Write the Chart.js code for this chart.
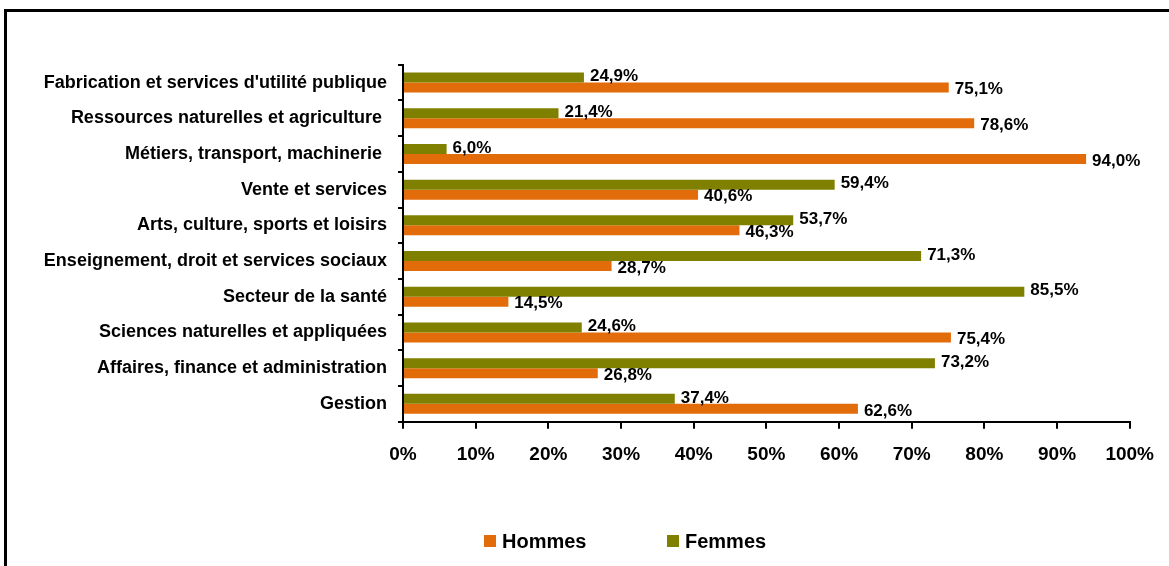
<!DOCTYPE html>
<html>
<head>
<meta charset="utf-8">
<script src="https://cdn.jsdelivr.net/npm/chart.js@4/dist/chart.umd.min.js"></script>
<style>
  html, body { margin: 0; padding: 0; background: #fff; }
  #wrap { width: 1169px; height: 566px; position: relative; }
</style>
</head>
<body>
<div id="wrap"><canvas id="chart" width="1169" height="566"></canvas></div>
<script>
const categories = [
  "Fabrication et services d'utilité publique",
  "Ressources naturelles et agriculture ",
  "Métiers, transport, machinerie ",
  "Vente et services",
  "Arts, culture, sports et loisirs",
  "Enseignement, droit et services sociaux",
  "Secteur de la santé",
  "Sciences naturelles et appliquées",
  "Affaires, finance et administration",
  "Gestion"
];
const femmes = [24.9, 21.4, 6.0, 59.4, 53.7, 71.3, 85.5, 24.6, 73.2, 37.4];
const hommes = [75.1, 78.6, 94.0, 40.6, 46.3, 28.7, 14.5, 75.4, 26.8, 62.6];
const legendOrder = ["Hommes", "Femmes"];

const ORANGE = "#E36C0A";
const OLIVE = "#808000";
const FONT = "'Liberation Sans', Arial, sans-serif";

const fmt = v => v.toFixed(1).replace(".", ",") + "%";

// black frame around the chart (left and top edges are visible)
const framePlugin = {
  id: "frame",
  beforeDraw(chart) {
    const ctx = chart.ctx;
    ctx.save();
    ctx.strokeStyle = "#000";
    ctx.lineWidth = 3;
    ctx.beginPath();
    ctx.moveTo(5.5, 566);
    ctx.lineTo(5.5, 10.5);
    ctx.lineTo(1169, 10.5);
    ctx.stroke();
    ctx.restore();
  }
};

// value labels at the end of each bar
const valueLabels = {
  id: "valueLabels",
  afterDatasetsDraw(chart) {
    const ctx = chart.ctx;
    ctx.save();
    ctx.font = "bold 17px " + FONT;
    ctx.fillStyle = "#000";
    ctx.textBaseline = "middle";
    ctx.textAlign = "left";
    chart.data.datasets.forEach((ds, i) => {
      const meta = chart.getDatasetMeta(i);
      const dy = ds.label === "Hommes" ? 2 : -1;
      meta.data.forEach((bar, j) => {
        ctx.fillText(fmt(ds.data[j]), bar.x + 6, bar.y + dy);
      });
    });
    ctx.restore();
  }
};

// legend drawn at bottom, Hommes first
const bottomLegend = {
  id: "bottomLegend",
  afterDraw(chart) {
    const ctx = chart.ctx;
    const items = [
      { text: legendOrder[0], color: ORANGE, x: 484 },
      { text: legendOrder[1], color: OLIVE, x: 667 }
    ];
    ctx.save();
    ctx.font = "bold 20px " + FONT;
    ctx.textBaseline = "middle";
    ctx.textAlign = "left";
    items.forEach(it => {
      ctx.fillStyle = it.color;
      ctx.fillRect(it.x, 535, 12, 12);
      ctx.fillStyle = "#000";
      ctx.fillText(it.text, it.x + 18, 542);
    });
    ctx.restore();
  }
};

new Chart(document.getElementById("chart"), {
  type: "bar",
  data: {
    labels: categories,
    datasets: [
      { label: "Femmes", data: femmes, backgroundColor: OLIVE },
      { label: "Hommes", data: hommes, backgroundColor: ORANGE }
    ]
  },
  options: {
    indexAxis: "y",
    responsive: false,
    animation: false,
    events: [],
    categoryPercentage: 0.56,
    barPercentage: 1,
    layout: { padding: { top: 64.7, right: 39, bottom: 94.3, left: 0 } },
    plugins: {
      legend: { display: false },
      tooltip: { enabled: false }
    },
    scales: {
      x: {
        min: 0,
        max: 100,
        ticks: {
          stepSize: 10,
          color: "#000",
          padding: 15,
          font: { family: FONT, size: 19, weight: "bold" },
          callback: v => v + "%"
        },
        grid: { drawOnChartArea: false, drawTicks: true, tickLength: 7, color: "#000", lineWidth: 2 },
        border: { display: true, color: "#000", width: 2 },
        afterFit(scale) { scale.height = 50; }
      },
      y: {
        ticks: {
          color: "#000",
          padding: 11,
          font: { family: FONT, size: 18, weight: "bold" }
        },
        grid: { drawOnChartArea: false, drawTicks: true, tickLength: 5, color: "#000", lineWidth: 2, offset: true },
        border: { display: true, color: "#000", width: 2 },
        afterFit(scale) { scale.width = 403; }
      }
    }
  },
  plugins: [framePlugin, valueLabels, bottomLegend]
});
</script>
</body>
</html>
